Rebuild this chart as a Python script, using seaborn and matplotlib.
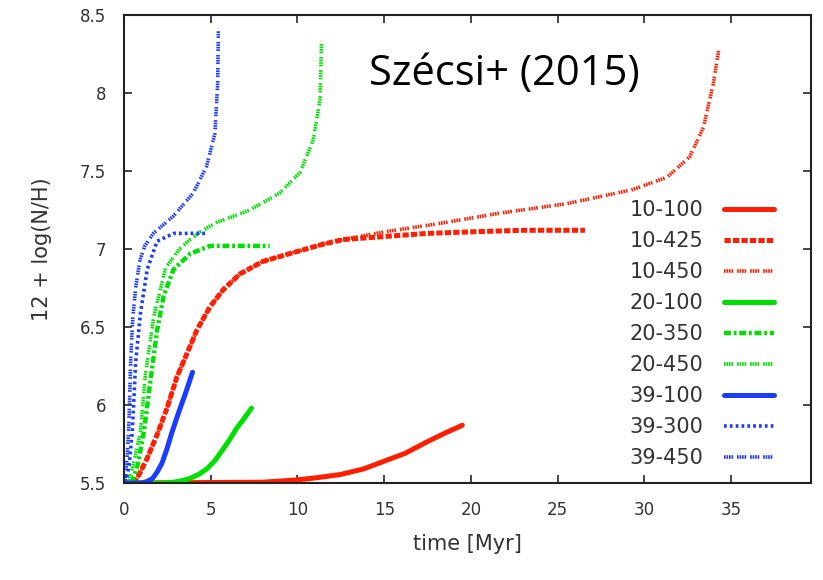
import matplotlib
matplotlib.use("Agg")
import matplotlib.pyplot as plt
import seaborn as sns
import pandas as pd

# ---- data ----
t_10_100 = [0.0, 8.0, 10.0, 11.2, 12.5, 13.8, 15.0, 16.2, 17.4, 18.5, 19.5]
n_10_100 = [5.5, 5.505, 5.52, 5.535, 5.555, 5.59, 5.64, 5.69, 5.76, 5.82, 5.87]

t_10_425 = [0.5, 0.76, 1.34, 1.91, 2.48, 3.05, 3.63, 4.2, 4.96, 5.73, 6.68, 8.0, 9.54,
            11.45, 12.6, 15.0, 17.5, 20.0, 23.0, 26.57]
n_10_425 = [5.5, 5.53, 5.66, 5.81, 5.98, 6.18, 6.33, 6.48, 6.63, 6.74, 6.84, 6.92, 6.97,
            7.03, 7.06, 7.08, 7.10, 7.11, 7.12, 7.12]

t_10_450 = [0.5, 0.76, 1.34, 1.91, 2.48, 3.05, 3.63, 4.2, 4.96, 5.73, 6.68, 8.0, 9.54,
            11.45, 12.6, 15.0, 18.0, 21.67, 25.5, 29.3, 31.3, 32.6, 33.4, 33.97, 34.3]
n_10_450 = [5.5, 5.53, 5.66, 5.81, 5.98, 6.18, 6.33, 6.48, 6.63, 6.74, 6.84, 6.92, 6.97,
            7.03, 7.06, 7.11, 7.16, 7.23, 7.29, 7.38, 7.46, 7.59, 7.78, 8.06, 8.29]

t_20_100 = [0.0, 2.0, 2.86, 3.35, 3.82, 4.3, 4.77, 5.25, 5.73, 6.1, 6.49, 6.9, 7.35]
n_20_100 = [5.5, 5.5, 5.505, 5.515, 5.53, 5.555, 5.59, 5.645, 5.72, 5.78, 5.85, 5.91, 5.98]

t_20_350 = [0.45, 0.8, 1.15, 1.53, 1.91, 2.29, 2.86, 3.82, 4.96, 6.5, 8.4]
n_20_350 = [5.5, 5.62, 5.83, 6.16, 6.48, 6.7, 6.87, 6.97, 7.02, 7.02, 7.02]

t_20_450 = [0.25, 0.6, 0.95, 1.24, 1.72, 2.4, 3.2, 3.8, 4.4, 5.34, 7.26, 8.99, 10.14,
            10.91, 11.3, 11.39]
n_20_450 = [5.5, 5.65, 5.83, 6.2, 6.57, 6.88, 7.0, 7.06, 7.11, 7.17, 7.25, 7.36, 7.49,
            7.7, 7.96, 8.34]

t_39_100 = [0.0, 1.0, 1.34, 1.65, 1.91, 2.2, 2.48, 2.75, 3.05, 3.3, 3.53, 3.95]
n_39_100 = [5.5, 5.5, 5.51, 5.53, 5.57, 5.63, 5.72, 5.82, 5.92, 6.0, 6.07, 6.21]

t_39_300 = [0.1, 0.3, 0.48, 0.67, 0.95, 1.34, 1.91, 2.86, 4.67]
n_39_300 = [5.5, 5.62, 5.83, 6.27, 6.59, 6.87, 7.05, 7.1, 7.1]

t_39_450 = [0.05, 0.2, 0.29, 0.38, 0.5, 0.67, 0.92, 1.2, 1.69, 2.84, 4.0, 4.76, 5.24,
            5.4, 5.44]
n_39_450 = [5.5, 5.7, 5.9, 6.27, 6.55, 6.75, 6.93, 7.02, 7.1, 7.21, 7.36, 7.53, 7.74,
            8.06, 8.4]

labels = ["10-100", "10-425", "10-450", "20-100", "20-350", "20-450",
          "39-100", "39-300", "39-450"]
x_ticks = [0, 5, 10, 15, 20, 25, 30, 35]
y_ticks = [5.5, 6, 6.5, 7, 7.5, 8, 8.5]
y_tick_labels = ["5.5", "6", "6.5", "7", "7.5", "8", "8.5"]

series = [
    (t_10_100, n_10_100), (t_10_425, n_10_425), (t_10_450, n_10_450),
    (t_20_100, n_20_100), (t_20_350, n_20_350), (t_20_450, n_20_450),
    (t_39_100, n_39_100), (t_39_300, n_39_300), (t_39_450, n_39_450),
]

RED, GREEN, BLUE = "#ff1e00", "#00e000", "#1a3cff"
colors = [RED, RED, RED, GREEN, GREEN, GREEN, BLUE, BLUE, BLUE]
widths = [3.6, 3.6, 2.6, 3.6, 3.2, 2.6, 3.6, 2.6, 2.6]
group = (1.2, 0.6, 1.2, 0.6, 1.2, 0.6, 1.2, 2.8)
dashes = [None, (4.5, 1.6), group, None, (5.0, 2.0, 2.0, 2.0), group,
          None, (2.0, 2.2), group]

sns.set_theme(style="ticks")
plt.rcParams["font.family"] = ["DejaVu Sans"]
plt.rcParams["lines.scale_dashes"] = False

fig = plt.figure(figsize=(8.23, 5.8), dpi=100)
ax = fig.add_axes([124 / 823, 1 - 483 / 580, (811 - 124) / 823, (483 - 15) / 580])

for (t, n), lab, c, w, d in zip(series, labels, colors, widths, dashes):
    df = pd.DataFrame({"time": t, "nh": n})
    sns.lineplot(data=df, x="time", y="nh", ax=ax, color=c, lw=w,
                 sort=False, estimator=None, legend=False)
    line = ax.get_lines()[-1]
    line.set_label(lab)
    line.set_solid_joinstyle("round")
    if d is not None:
        line.set_dashes(d)
        line.set_dash_capstyle("butt")

ax.set_xlim(0, 39.6)
ax.set_ylim(5.5, 8.5)
ax.set_xticks(x_ticks)
ax.set_xticklabels([str(v) for v in x_ticks])
ax.set_yticks(y_ticks)
ax.set_yticklabels(y_tick_labels)
ax.tick_params(direction="in", length=6, width=1.2, top=True, right=True,
               labelsize=12, labelcolor="#333333", pad=13)
for s in ax.spines.values():
    s.set_linewidth(1.5)
    s.set_color("#222222")

ax.set_xlabel("time [Myr]", fontsize=15, color="#333333", labelpad=11)
ax.set_ylabel("12 + log(N/H)", fontsize=15, color="#333333", labelpad=20)

fig.text(504 / 823, 1 - 74 / 580, "Szécsi+ (2015)", ha="center", va="center",
         fontsize=30, family=["Open Sans", "DejaVu Sans"], color="black")

leg = ax.legend(loc="upper right", bbox_to_anchor=(774 / 823, 1 - 200 / 580),
                bbox_transform=fig.transFigure, frameon=False, markerfirst=False,
                fontsize=15, handlelength=2.4, handletextpad=1.0,
                labelspacing=0.53, borderpad=0, borderaxespad=0)
for txt in leg.get_texts():
    txt.set_color("#333333")

fig.savefig("out.png", dpi=100)
